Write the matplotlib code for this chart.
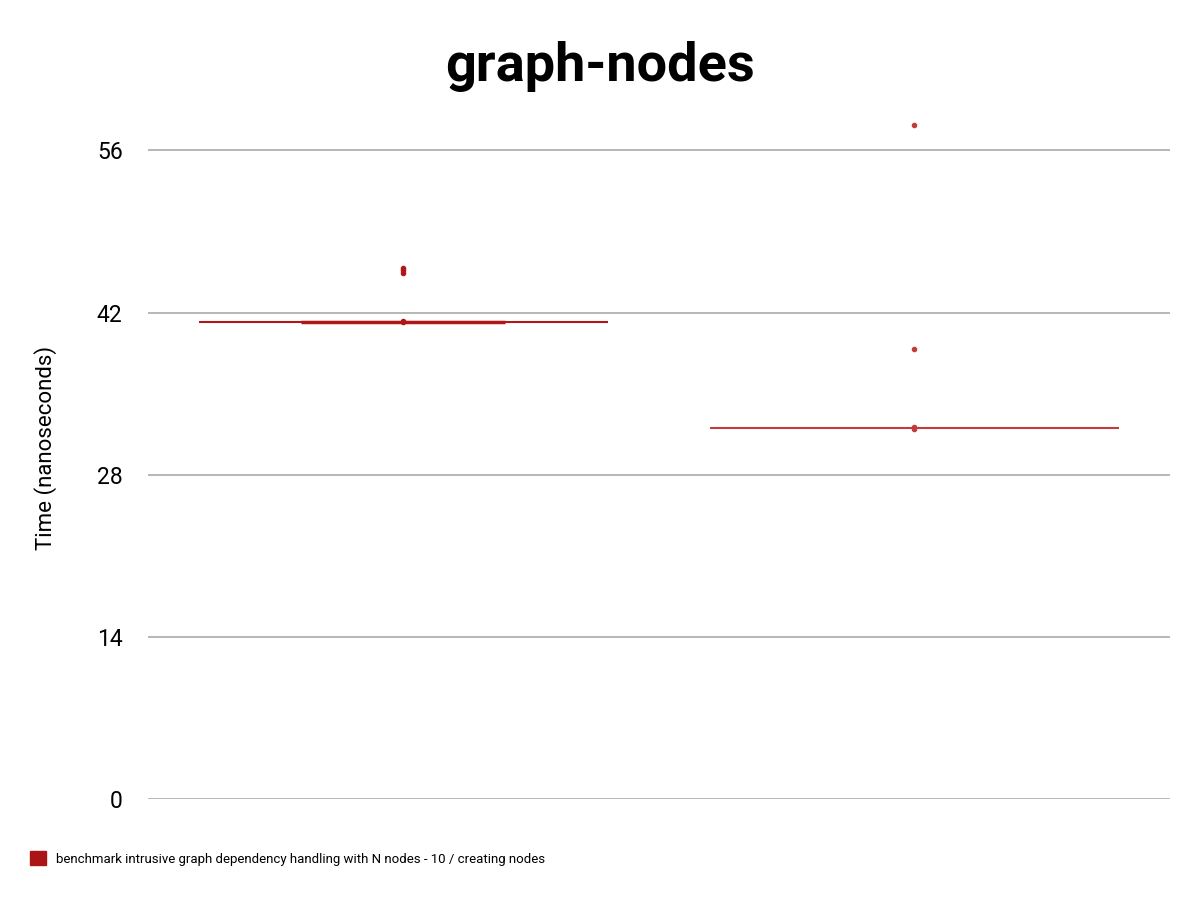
import numpy as np
import matplotlib.pyplot as plt
from matplotlib.patches import Patch

plt.rcParams['font.family'] = ['Roboto', 'DejaVu Sans']

# Data (nanoseconds)
categories = ['10 / creating nodes (a)', '10 / creating nodes (b)']
medians = [41.2, 32.05]
box_low = [41.22, 32.05]
box_high = [41.22, 32.05]
box_width = [0.4, 0.0]
samples = [[41.2, 41.3, 45.45, 45.7, 45.85], [32.0, 32.15, 38.85, 58.2]]
colors = ['#b01818', '#c23c3c']
y_ticks = [0, 14, 28, 42, 56]

fig = plt.figure(figsize=(12, 9), dpi=100)
ax = fig.add_axes([0.123, 0.112, 0.852, 0.78])

x = np.arange(len(categories))
for i in x:
    ax.hlines(medians[i], i - 0.4, i + 0.4, color=colors[i], lw=1.5, zorder=3)
    if box_width[i] > 0:
        ax.hlines(box_low[i], i - box_width[i] / 2, i + box_width[i] / 2,
                  color=colors[i], lw=2.5, zorder=3)
    ax.scatter([i] * len(samples[i]), samples[i], s=9, color=colors[i],
               edgecolor=colors[i], zorder=4)

ax.set_xlim(-0.5, 1.5)
ax.set_ylim(0, 60.6)
ax.set_yticks(y_ticks)
ax.set_yticklabels([str(t) for t in y_ticks], fontsize=16.5)
ax.set_xticks([])
ax.grid(axis='y', color='#aaaaaa', lw=1.2)
ax.set_axisbelow(True)
for s in ax.spines.values():
    s.set_visible(False)
ax.tick_params(axis='y', length=0, pad=18)
ax.set_ylabel('Time (nanoseconds)', fontsize=16, labelpad=29)

fig.suptitle('graph-nodes', fontsize=39, fontweight='bold', y=0.955)

handle = Patch(color='#ab1515')
fig.legend([handle], ['benchmark intrusive graph dependency handling with N nodes - 10 / creating nodes'],
           loc='lower left', bbox_to_anchor=(0.015, 0.025), frameon=False, fontsize=9.5,
           handlelength=1.2, handleheight=1.2, handletextpad=0.75)

fig.savefig('out.png', dpi=100)
